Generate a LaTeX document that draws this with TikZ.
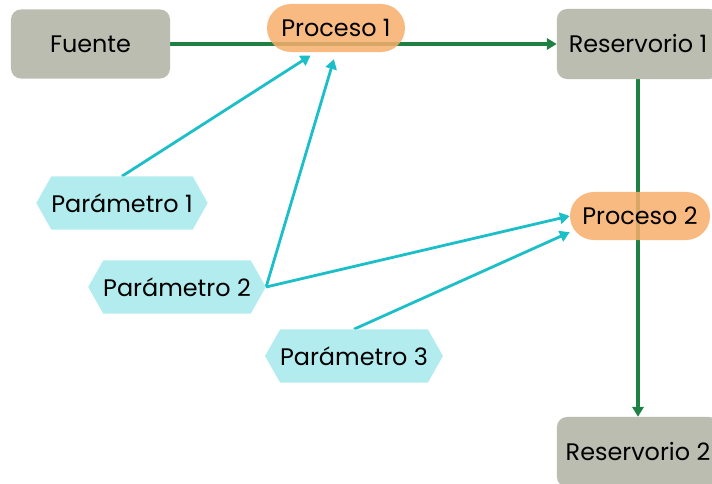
\documentclass[tikz,border=0pt]{standalone}
\usepackage{fontspec}
\setmainfont{Poppins}
\usetikzlibrary{arrows.meta,shapes.symbols,backgrounds}

\definecolor{caja}{RGB}{187,189,176}
\definecolor{naranja}{RGB}{248,174,108}
\definecolor{celeste}{RGB}{178,236,238}
\definecolor{turquesa}{RGB}{28,191,200}
\definecolor{verde}{RGB}{30,128,67}

\tikzset{
 reserva/.style={rectangle,rounded corners=0.25cm,fill=caja,minimum width=4.05cm,minimum height=1.75cm},
 proceso/.style={rectangle,rounded corners=0.6cm,fill=naranja,fill opacity=0.85,text opacity=1,minimum width=3.45cm,minimum height=1.2cm},
 parametro/.style={signal,signal to=west and east,signal pointer angle=121,fill=celeste,minimum width=4.0cm,minimum height=1.325cm},
 flujo/.style={draw=verde,line width=2.2pt,-{Triangle[length=7pt,width=8pt]}},
 control/.style={draw=turquesa,line width=2pt,-{Triangle[length=7pt,width=8pt]}}
}

\begin{document}
\begin{tikzpicture}[x=0.025cm,y=-0.025cm,font=\fontsize{17}{21}\selectfont,inner sep=0pt]
\useasboundingbox (0,0) rectangle (712,484);
\clip (0,0) rectangle (712,484);

\node[reserva,minimum width=3.975cm,minimum height=1.725cm](fuente) at (90.5,44){Fuente};
\node[reserva](r1) at (638,44){Reservorio 1};
\node[reserva](r2) at (638,452){Reservorio 2};
\node[proceso](p1) at (336,28){Proceso 1};
\node[proceso,minimum width=3.5cm](p2) at (640,216){Proceso 2};
\node[parametro](pm1) at (122,203){Parámetro 1};
\node[parametro](pm2) at (177,287){Parámetro 2};
\node[parametro](pm3) at (354,356){Parámetro 3};

\begin{pgfonlayer}{background}
\path(fuente)edge[flujo](r1)
	(r1)edge[flujo](r2)
	(pm1.north)edge[control,shorten >=0.15cm](p1.230)
	(pm2.east)edge[control,shorten >=0.18cm](p1.south)
	(pm2.east)edge[control](p2.west)
	(pm3.north)edge[control](p2.193);
\end{pgfonlayer}

\end{tikzpicture}
\end{document}
